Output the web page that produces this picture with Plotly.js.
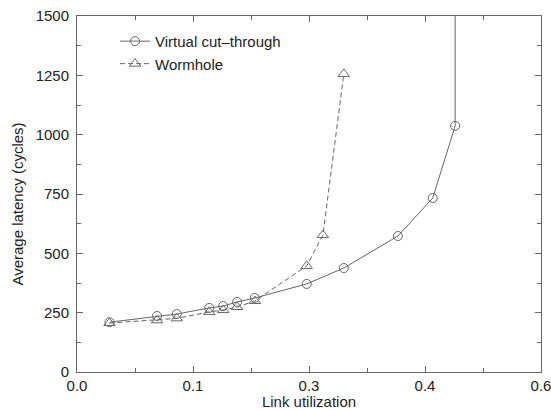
<!DOCTYPE html>
<html>
<head>
<meta charset="utf-8">
<script src="https://cdn.plot.ly/plotly-3.0.1.min.js"></script>
<style>
  html, body { margin: 0; padding: 0; background: #fff; }
  #chart { width: 551px; height: 410px; }
</style>
</head>
<body>
<div id="chart"></div>
<script>
// Link utilization vs. average latency for two switching techniques
const utilVct = [0.042, 0.1035, 0.129, 0.171, 0.189, 0.207, 0.230, 0.297, 0.345, 0.415, 0.460, 0.489, 0.489];
const latVct  = [210, 236, 244, 270, 278, 295, 312, 371, 438, 573, 733, 1037, 2600];

const utilWh = [0.042, 0.1035, 0.129, 0.171, 0.189, 0.207, 0.230, 0.297, 0.318, 0.345];
const latWh  = [206, 218, 226, 253, 261, 274, 299, 447, 577, 1256];

const xTickVals = [0, 0.15, 0.3, 0.45, 0.6];
const xTickText = ['0.0', '0.1', '0.3', '0.4', '0.6'];
const yTickVals = [0, 250, 500, 750, 1000, 1250, 1500];

const ink = '#666';
const textInk = '#222';
const fontFamily = 'Liberation Sans, Arial, sans-serif';

const traces = [
  {
    name: 'Virtual cut\u2013through',
    x: utilVct, y: latVct,
    mode: 'lines+markers',
    line: { color: ink, width: 1 },
    marker: { symbol: 'circle-open', size: 9, color: ink, line: { width: 1 } }
  },
  {
    name: 'Wormhole',
    x: utilWh, y: latWh,
    mode: 'lines+markers',
    line: { color: ink, width: 1, dash: '5px,3px' },
    marker: { symbol: 'triangle-up-open', size: 10, color: ink, line: { width: 1 } }
  }
];

const axisCommon = {
  showgrid: false,
  zeroline: false,
  showline: true,
  linecolor: '#666',
  linewidth: 1,
  mirror: 'ticks',
  ticks: 'inside',
  ticklen: 6,
  tickcolor: '#666',
  automargin: false,
  tickfont: { family: fontFamily, size: 15, color: textInk }
};

const layout = {
  width: 551, height: 410,
  margin: { l: 77, r: 10, t: 16, b: 38 },
  paper_bgcolor: '#fff',
  plot_bgcolor: '#fff',
  font: { family: fontFamily, size: 15, color: textInk },
  showlegend: true,
  legend: {
    x: 0.082, y: 0.975, xanchor: 'left', yanchor: 'top',
    bgcolor: 'rgba(0,0,0,0)',
    font: { size: 15, color: textInk },
    tracegroupgap: 0
  },
  xaxis: Object.assign({}, axisCommon, {
    range: [0, 0.6],
    tickmode: 'array',
    tickvals: xTickVals,
    ticktext: xTickText,
    ticklabelstandoff: 0,
    ticklabeloverflow: 'allow',
    minor: { dtick: 0.075, ticks: 'inside', ticklen: 4, tickcolor: '#666' },
    title: { text: 'Link utilization', standoff: 7, font: { family: fontFamily, size: 15, color: textInk } }
  }),
  yaxis: Object.assign({}, axisCommon, {
    range: [0, 1500],
    tickmode: 'array',
    tickvals: yTickVals,
    ticklabelstandoff: 4,
    minor: { dtick: 125, ticks: 'inside', ticklen: 4, tickcolor: '#666' }
  }),
  annotations: [{
    text: 'Average latency (cycles)',
    textangle: -90,
    xref: 'paper', yref: 'paper',
    x: -0.128, y: 0.472,
    xanchor: 'center', yanchor: 'middle',
    showarrow: false,
    font: { family: fontFamily, size: 15, color: textInk }
  }]
};

Plotly.newPlot('chart', traces, layout, { displayModeBar: false, staticPlot: true });
</script>
</body>
</html>
